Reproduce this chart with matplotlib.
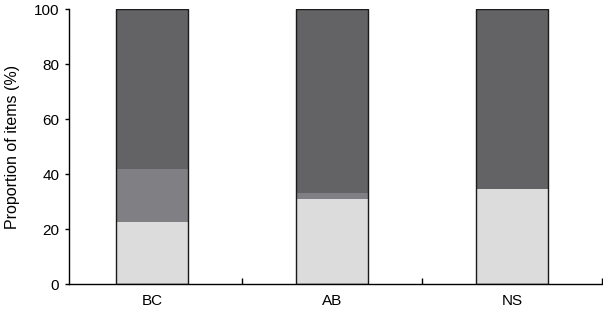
import matplotlib.pyplot as plt

plt.rcParams['font.family'] = ['Liberation Sans', 'DejaVu Sans']

# Data
categories = ['BC', 'AB', 'NS']
bottom_vals = [22.5, 31.0, 34.7]
middle_vals = [19.2, 2.3, 0.0]
top_vals = [58.3, 66.7, 65.3]
yticks = [0, 20, 40, 60, 80, 100]

colors = ['#dcdcdc', '#808084', '#636366']

fig = plt.figure(figsize=(6.03, 3.10), dpi=100)
ax = fig.add_axes([69 / 603, 26 / 310, 533 / 603, 274.7 / 310])

x = list(range(len(categories)))
width = 0.4
b1 = bottom_vals
b2 = [a + b for a, b in zip(bottom_vals, middle_vals)]
ax.bar(x, bottom_vals, width, color=colors[0], linewidth=0)
ax.bar(x, middle_vals, width, bottom=b1, color=colors[1], linewidth=0)
ax.bar(x, top_vals, width, bottom=b2, color=colors[2], linewidth=0)
totals = [a + b for a, b in zip(b2, top_vals)]
ax.bar(x, totals, width, fill=False, edgecolor='#1a1a1a', linewidth=1.0)

ax.set_xlim(-0.461, 2.5)
ax.set_ylim(0, 100)
ax.set_yticks(yticks)
ax.set_xticks(x)
ax.set_xticklabels(categories)
ax.set_xticks([0.5, 1.5, 2.5], minor=True)
ax.tick_params(axis='x', which='major', length=0, labelsize=11, pad=7)
ax.tick_params(axis='x', which='minor', direction='in', length=4, width=1)
ax.tick_params(axis='y', direction='out', length=3, width=1, labelsize=11, pad=4)
ax.set_ylabel('Proportion of items (%)', fontsize=11.5, labelpad=10)

for side in ['top', 'right']:
    ax.spines[side].set_visible(False)
for side in ['left', 'bottom']:
    ax.spines[side].set_linewidth(1.0)

fig.savefig('out.png', dpi=100)
